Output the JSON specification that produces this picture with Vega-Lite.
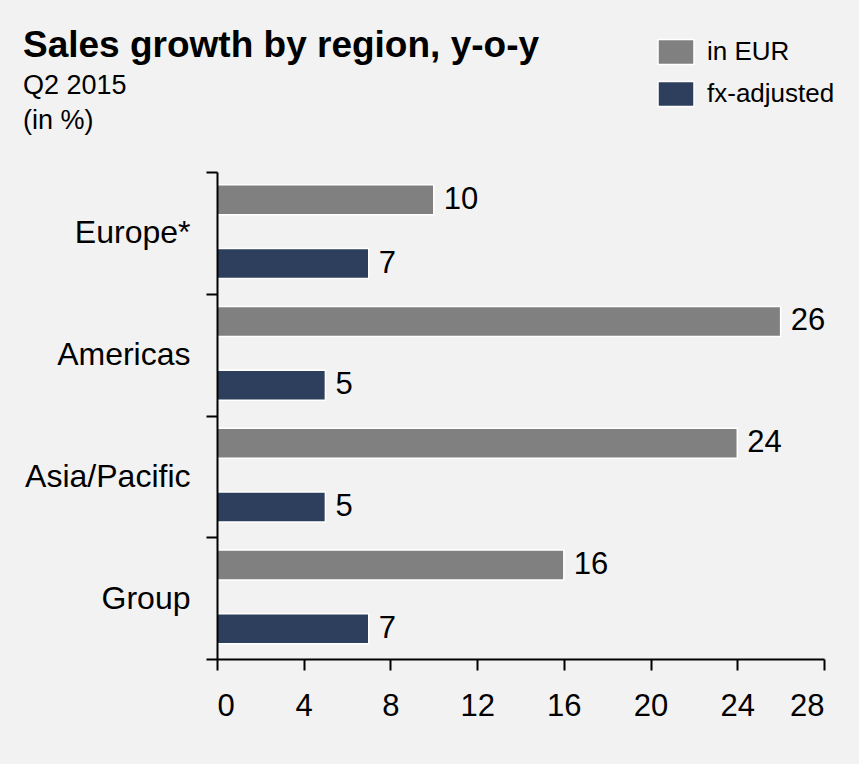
{
  "$schema": "https://vega.github.io/schema/vega-lite/v6.json",
  "autosize": {"type": "none"},
  "width": 607,
  "height": 487,
  "padding": {"left": 217, "top": 172, "right": 35, "bottom": 105},
  "background": "#f2f2f2",
  "title": {
    "text": "Sales growth by region, y-o-y",
    "subtitle": ["Q2 2015", "(in %)"],
    "anchor": "start",
    "frame": "group",
    "font": "Liberation Sans",
    "fontSize": 37,
    "fontWeight": "bold",
    "color": "#000000",
    "subtitleFont": "Liberation Sans",
    "subtitleFontSize": 27,
    "subtitleColor": "#000000",
    "subtitleLineHeight": 35,
    "subtitlePadding": 8,
    "dx": -194,
    "offset": -102
  },
  "config": {
    "view": {"stroke": null},
    "font": "Liberation Sans"
  },
  "data": {
    "values": [
      {"region": "Europe*", "series": "in EUR", "value": 10},
      {"region": "Europe*", "series": "fx-adjusted", "value": 7},
      {"region": "Americas", "series": "in EUR", "value": 26},
      {"region": "Americas", "series": "fx-adjusted", "value": 5},
      {"region": "Asia/Pacific", "series": "in EUR", "value": 24},
      {"region": "Asia/Pacific", "series": "fx-adjusted", "value": 5},
      {"region": "Group", "series": "in EUR", "value": 16},
      {"region": "Group", "series": "fx-adjusted", "value": 7}
    ]
  },
  "encoding": {
    "y": {
      "field": "region",
      "type": "nominal",
      "sort": null,
      "scale": {"paddingInner": 0, "paddingOuter": 0},
      "axis": {
        "title": null,
        "zindex": 1,
        "tickBand": "extent",
        "tickSize": 11,
        "tickWidth": 2,
        "tickColor": "#000000",
        "domainColor": "#000000",
        "domainWidth": 2,
        "labelFontSize": 32,
        "labelColor": "#000000",
        "labelPadding": 16,
        "labelFont": "Liberation Sans"
      }
    },
    "yOffset": {
      "field": "series",
      "type": "nominal",
      "sort": ["in EUR", "fx-adjusted"],
      "scale": {"paddingInner": 0.529, "paddingOuter": 0.219, "align": 0.455}
    },
    "x": {
      "field": "value",
      "type": "quantitative",
      "scale": {"domain": [0, 28], "nice": false},
      "axis": {
        "title": null,
        "zindex": 1,
        "values": [0, 4, 8, 12, 16, 20, 24, 28],
        "grid": false,
        "tickSize": 11,
        "tickWidth": 2,
        "tickColor": "#000000",
        "domainColor": "#000000",
        "domainWidth": 2,
        "labelFontSize": 31,
        "labelColor": "#000000",
        "labelPadding": 21,
        "labelFont": "Liberation Sans"
      }
    }
  },
  "layer": [
    {
      "mark": {"type": "bar", "stroke": "#ffffff", "strokeWidth": 1.5},
      "encoding": {
        "color": {
          "field": "series",
          "type": "nominal",
          "scale": {"domain": ["in EUR", "fx-adjusted"], "range": ["#808080", "#2d3f5c"]},
          "legend": {
            "title": null,
            "orient": "none",
            "legendX": 440,
            "legendY": -139,
            "padding": 0,
            "symbolType": "M-1,-0.7L1,-0.7L1,0.7L-1,0.7Z",
            "symbolSize": 1296,
            "symbolStrokeColor": "#ffffff",
            "symbolStrokeWidth": 1.5,
            "symbolOpacity": 1,
            "labelFontSize": 26,
            "labelFont": "Liberation Sans",
            "labelColor": "#000000",
            "labelOffset": 12,
            "rowPadding": 7
          }
        }
      }
    },
    {
      "mark": {"type": "text", "align": "left", "baseline": "middle", "dx": 10, "fontSize": 31, "font": "Liberation Sans", "color": "#000000"},
      "encoding": {
        "text": {"field": "value", "type": "quantitative"}
      }
    }
  ]
}
